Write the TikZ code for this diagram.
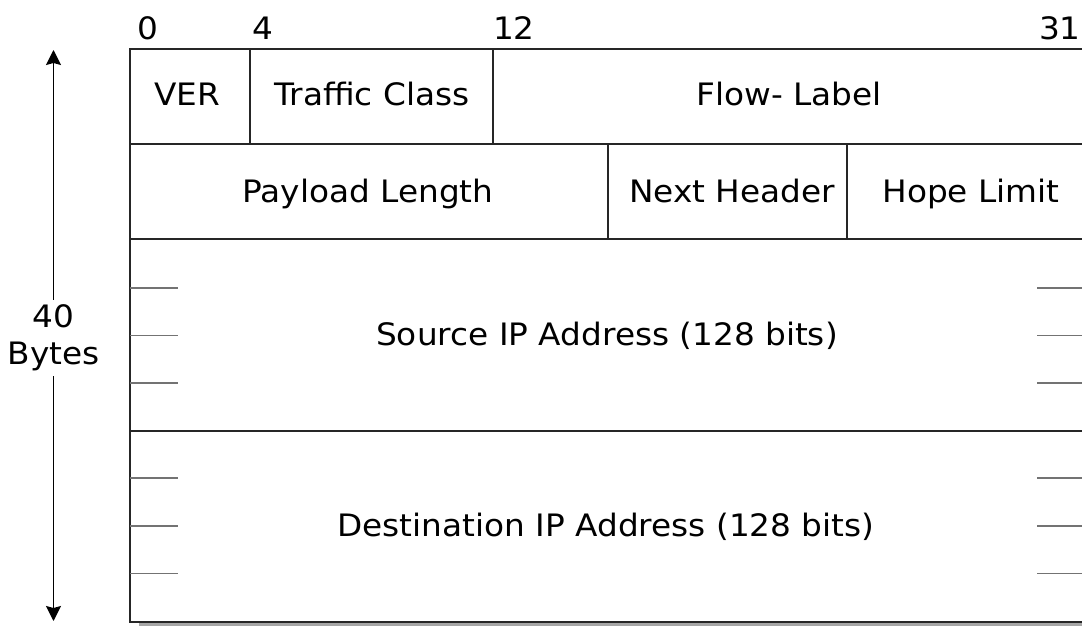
\documentclass[tikz,border=0pt]{standalone}
\usepackage{fontspec}
\setmainfont[FakeStretch=1.06]{DejaVu Sans}
\usetikzlibrary{arrows.meta}
\begin{document}
\begin{tikzpicture}[x=1bp,y=-1bp,
  lbl/.style={font=\fontsize{31}{37}\selectfont, inner sep=0pt, anchor=base},
  frame/.style={line width=2bp, draw=black!85},
  tick/.style={line width=1.6bp, draw=black!55},
  arr/.style={line width=1.5bp, -{Stealth[length=15bp,width=15bp,inset=2bp]}}]
\useasboundingbox (0,0) rectangle (1082,626);
\clip (0,0) rectangle (1082,626);
% shadow
\fill[black!35] (139,622) rectangle (1095,626);
% frame and rows
\draw[frame] (130,49) rectangle (1100,622);
\draw[frame] (130,144.3) -- (1100,144.3);
\draw[frame] (130,239.5) -- (1100,239.5);
\draw[frame] (130,430.5) -- (1100,430.5);
% column dividers
\draw[frame] (250,49) -- (250,144.3);
\draw[frame] (493,49) -- (493,144.3);
\draw[frame] (607.5,144.3) -- (607.5,239.5);
\draw[frame] (846.5,144.3) -- (846.5,239.5);
% ticks
\foreach \y in {287.7,335.3,383,478,526,573.5}{
  \draw[tick] (130,\y) -- (177.5,\y);
  \draw[tick] (1037,\y) -- (1090,\y);
}
% bit numbers
\node[lbl] (n0) at (148,40) {0};
\node[lbl] (n4) at (263,40) {4};
\node[lbl] (n12) at (514,40) {12};
\node[lbl, anchor=base east] (n31) at (1081,40) {31};
% field labels
\node[lbl] (ver) at (187,106) {VER};
\node[lbl] (tc) at (372,106) {Traffic Class};
\node[lbl] (fl) at (789,106) {Flow- Label};
\node[lbl] (pl) at (368,203) {Payload Length};
\node[lbl] (nh) at (732,203) {Next Header};
\node[lbl] (hl) at (971,203) {Hope Limit};
\node[lbl] (src) at (607,345) {Source IP Address (128 bits)};
\node[lbl] (dst) at (606,536) {Destination IP Address (128 bits)};
% size arrow
\node[lbl, anchor=center, align=center, inner sep=5bp] (bytes) at (53.5,338) {40\\Bytes};
\coordinate (atop) at (53.5,50);
\coordinate (abot) at (53.5,621);
\draw[arr] (bytes) -- (atop);
\draw[arr] (bytes) -- (abot);
\end{tikzpicture}
\end{document}
